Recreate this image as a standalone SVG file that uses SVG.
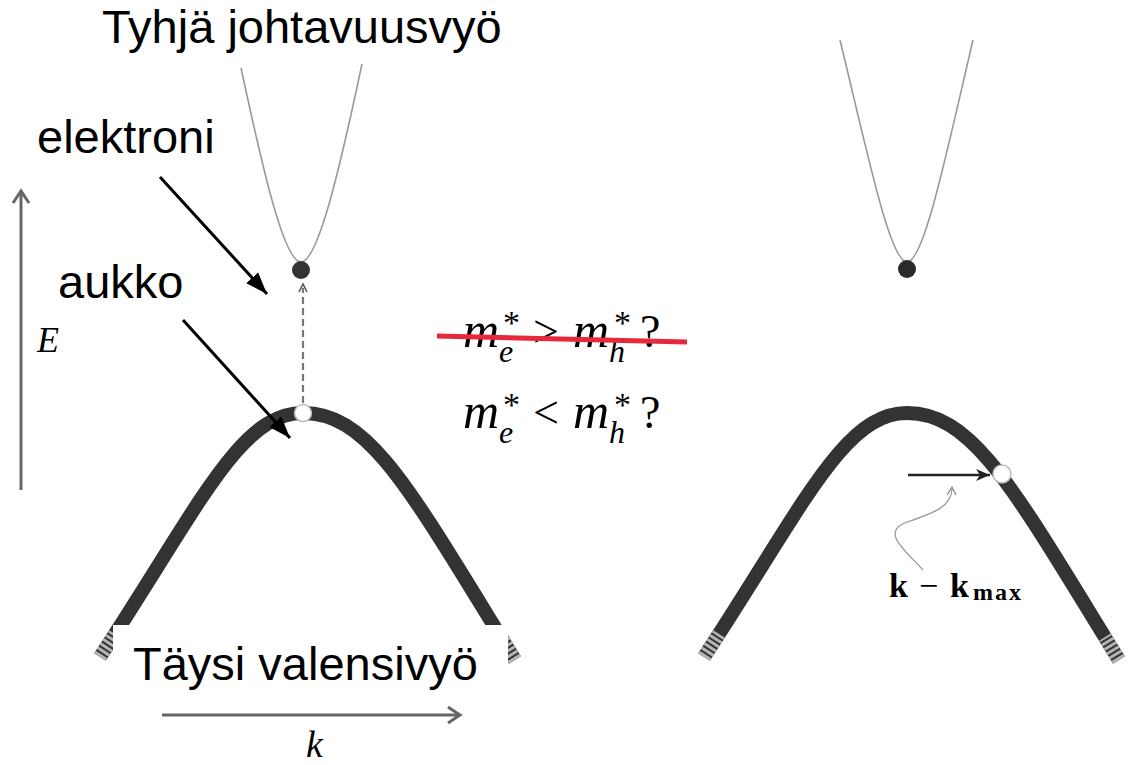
<svg xmlns="http://www.w3.org/2000/svg" width="1130" height="765" viewBox="0 0 1130 765">
<style>
.lbl{font-family:"Liberation Sans",Arial,sans-serif;font-size:47px;fill:#000}
.mi{font-family:"Liberation Serif","Times New Roman",serif;font-style:italic;fill:#000}
.mr{font-family:"Liberation Serif","Times New Roman",serif;fill:#000}
.it{font-style:italic}
.up{font-style:normal}
.band{fill:none;stroke:#333;stroke-width:14}
.bandEnd{fill:none;stroke:#b4b4b4;stroke-width:14;stroke-dasharray:3 2}
.cb{fill:none;stroke:#999;stroke-width:1.6}
.ax{fill:none;stroke:#666;stroke-width:3}
.blk{stroke:#000;stroke-width:3;fill:none}
</style>
<defs>
<marker id="ah" markerUnits="userSpaceOnUse" markerWidth="24" markerHeight="18" refX="22" refY="9" orient="auto">
<path d="M0,1 L22,9 L0,17 Z" fill="#000"/>
</marker>
<marker id="ah2" markerUnits="userSpaceOnUse" markerWidth="16" markerHeight="14" refX="14" refY="7" orient="auto">
<path d="M0,1 L14,7 L0,13 L4,7 Z" fill="#222"/>
</marker>
<path id="vb" d="M100 657 C200 505 240 413 303 413 C370 413 410 490 515 660"/>
</defs>
<rect width="1130" height="765" fill="#fff"/>

<g id="axes">
<line class="ax" x1="21" y1="490" x2="21" y2="192"/>
<polyline class="ax" points="13,203 21,191 29,203"/>
<text class="mi" x="37" y="352" font-size="36">E</text>
<line class="ax" x1="162" y1="715" x2="458" y2="715"/>
<polyline class="ax" points="448,707 460,715 448,723"/>
<text class="mi" x="306" y="757" font-size="38">k</text>
</g>

<g id="left-conduction-band">
<path class="cb" d="M241 68 C263 170 284 262 301 262 C318 262 340 170 367 40" />
</g>

<g id="left-valence-band">
<use href="#vb" class="band"/>
<line class="bandEnd" x1="100" y1="657" x2="115" y2="634"/>
<line class="bandEnd" x1="515" y1="660" x2="501" y2="637"/>
</g>

<g id="title">
<rect x="95" y="0" width="420" height="64" fill="#fff"/>
<text class="lbl" x="102" y="43">Tyhjä johtavuusvyö</text>
</g>

<g id="electron-left">
<circle cx="301" cy="270" r="9" fill="#333"/>
</g>
<g id="hole-left">
<circle cx="303" cy="413" r="8.5" fill="#fff" stroke="#bbb" stroke-width="1.5"/>
</g>

<g id="right-conduction-band">
<path class="cb" d="M840 40 C868 155 890 262 907 262 C924 262 946 155 973 40"/>
<circle cx="907" cy="269" r="9" fill="#2a2a2a"/>
</g>

<g id="right-valence-band" transform="translate(604,0)">
<use href="#vb" class="band"/>
<line class="bandEnd" x1="100" y1="657" x2="115" y2="634"/>
<line class="bandEnd" x1="515" y1="660" x2="501" y2="637"/>
</g>
<g id="hole-right">
<circle cx="1002" cy="474" r="9" fill="#fff" stroke="#bbb" stroke-width="1.5"/>
</g>

<g id="valence-label">
<rect x="113" y="625" width="395" height="62" fill="#fff"/>
<text class="lbl" x="133" y="680">Täysi valensivyö</text>
</g>

<g id="elektroni">
<text class="lbl" x="37" y="153">elektroni</text>
</g>
<g id="aukko">
<text class="lbl" x="58" y="298">aukko</text>
</g>

<g id="equations">
<text class="mr"><tspan class="it" x="463" y="347" font-size="50">m</tspan><tspan class="it" x="499" y="362" font-size="32">e</tspan><tspan x="503" y="334" font-size="34">*</tspan><tspan x="533" y="347" font-size="46">&gt;</tspan><tspan class="it" x="573" y="347" font-size="50">m</tspan><tspan class="it" x="609" y="362" font-size="32">h</tspan><tspan x="614" y="334" font-size="34">*</tspan><tspan x="640" y="347" font-size="46">?</tspan></text>
<line x1="437" y1="336" x2="687" y2="342" stroke="#E8283C" stroke-width="5"/>
<text class="mr"><tspan class="it" x="463" y="428" font-size="50">m</tspan><tspan class="it" x="499" y="443" font-size="32">e</tspan><tspan x="503" y="416" font-size="34">*</tspan><tspan x="533" y="428" font-size="46">&lt;</tspan><tspan class="it" x="573" y="428" font-size="50">m</tspan><tspan class="it" x="609" y="443" font-size="32">h</tspan><tspan x="614" y="416" font-size="34">*</tspan><tspan x="640" y="428" font-size="46">?</tspan></text>
</g>

<g id="kmax-label">
<text class="mr" font-weight="bold" font-size="34"><tspan x="889" y="597">k</tspan><tspan x="919" y="597" font-weight="normal">−</tspan><tspan x="950" y="597">k</tspan><tspan x="973" y="600" font-size="24" letter-spacing="2">max</tspan></text>
</g>

<g id="connectors">
<line class="blk" x1="160" y1="177" x2="267" y2="294" marker-end="url(#ah)"/>
<line class="blk" x1="183" y1="320" x2="290" y2="438" marker-end="url(#ah)"/>
<line x1="303" y1="403" x2="303" y2="288" stroke="#777" stroke-width="2.2" stroke-dasharray="7 4"/>
<polyline points="299,292 303,284 307,292" fill="none" stroke="#555" stroke-width="1.6"/>
<line x1="908" y1="475" x2="990" y2="475" stroke="#222" stroke-width="2.5" marker-end="url(#ah2)"/>
<path d="M923 570 C905 550 880 532 907 522 C937 512 951 506 952 489" fill="none" stroke="#999" stroke-width="1.3"/>
<polyline points="947,495 952,487 956,495" fill="none" stroke="#888" stroke-width="1.3"/>
</g>
</svg>
